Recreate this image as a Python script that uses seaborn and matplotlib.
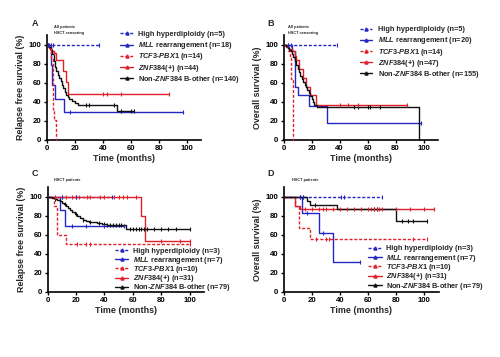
import numpy as np
import pandas as pd
import matplotlib
matplotlib.use("Agg")
import matplotlib.pyplot as plt
import seaborn as sns
from matplotlib.lines import Line2D

sns.set_style("ticks")
plt.rcParams["font.family"] = ["Liberation Sans", "DejaVu Sans"]
plt.rcParams["font.weight"] = "bold"
plt.rcParams["mathtext.fontset"] = "custom"
plt.rcParams["mathtext.it"] = "Liberation Sans:italic:bold"
plt.rcParams["mathtext.rm"] = "Liberation Sans:bold"
plt.rcParams["mathtext.bf"] = "Liberation Sans:bold"

# ---------------- data (time in months, survival in %) ----------------
# Panel A: relapse free survival, all patients
A_hh_t = [0, 37];                      A_hh_s = [100, 100];           A_hh_c = [1, 2, 3, 4.5, 37]
A_mll_t = [0, 3, 3.5, 4, 6, 12.5, 97]; A_mll_s = [100, 93, 79, 58, 43, 29, 29]; A_mll_c = [17, 97]
A_tcf_t = [0, 2.5, 3.5, 4.5, 5.5, 6.5]; A_tcf_s = [100, 93, 86, 30, 21, 0]; A_tcf_c = []
A_znf_t = [0, 2, 3, 4, 5, 7, 12, 13.5, 15, 87]
A_znf_s = [100, 97, 95, 93, 91, 84, 72, 61, 48, 48]
A_znf_c = [3, 5, 40, 43, 53, 87]
A_non_t = [0, 2, 3, 4, 5, 6, 7, 8, 9, 10, 11, 12, 13, 14, 15, 16, 18, 20, 22, 50, 62]
A_non_s = [100, 98, 95, 90, 83, 77, 72, 68, 65, 62, 58, 54, 50, 47, 45, 43, 41, 39, 36, 30, 30]
A_non_c = [1, 28, 30, 48, 53, 60, 62]

# Panel B: overall survival, all patients
B_hh_t = [0, 38];                        B_hh_s = [100, 100];           B_hh_c = [3, 5, 38]
B_mll_t = [0, 6, 8.5, 10.5, 18, 31, 98]; B_mll_s = [100, 93, 56, 47, 35, 17, 17]; B_mll_c = [3, 98]
B_tcf_t = [0, 3, 4.5, 5.5, 6.5];         B_tcf_s = [100, 93, 86, 64, 0]; B_tcf_c = []
B_znf_t = [0, 2, 4, 6, 8, 9, 11, 14, 16, 19, 23, 88]
B_znf_s = [100, 98, 96, 93, 88, 84, 75, 65, 56, 47, 37, 37]
B_znf_c = [40, 46, 53, 88]
B_non_t = [0, 2, 3, 4, 5, 6, 7, 8, 9, 10, 11, 12, 13, 14, 15, 16, 17, 18, 19, 20, 21, 22, 24, 97]
B_non_s = [100, 99, 97, 95, 93, 90, 87, 83, 79, 75, 71, 67, 64, 61, 58, 55, 52, 49, 46, 43, 40, 37, 34, 0]
B_non_c = [50, 53, 60, 62, 69]

# Panel C: relapse free survival, HSCT patients
C_hh_t = [0, 45];              C_hh_s = [100, 100];         C_hh_c = [10, 20, 45]
C_mll_t = [0, 8.5, 12, 54];    C_mll_s = [100, 86, 69, 69]; C_mll_c = [17, 27, 40, 54]
C_tcf_t = [0, 4.5, 7, 13, 100]; C_tcf_s = [100, 90, 60, 50, 50]; C_tcf_c = [21, 27, 30, 100]
C_znf_t = [0, 66, 68.5, 100];  C_znf_s = [100, 80, 53, 53]
C_znf_c = [5, 10, 13, 17, 20, 22, 28, 30, 37, 40, 47, 50, 53, 56, 62, 80, 93, 100]
C_non_t = [0, 3, 5, 7, 8.5, 10, 11.5, 13, 14.5, 16, 17.5, 19, 21, 23, 25, 27, 29, 32, 35, 38, 42, 55.5, 100]
C_non_s = [100, 99, 98, 97, 96, 94, 92, 90, 88, 86, 84, 82, 80, 78, 76, 75, 74, 73, 72, 71, 70, 66, 66]
C_non_c = [5, 12, 20, 25, 30, 36, 40, 42, 44, 46, 48, 50, 52, 58, 60, 62, 64, 66, 68, 70, 75, 80, 85, 90, 100]

# Panel D: overall survival, HSCT patients
D_hh_t = [0, 70];                D_hh_s = [100, 100];             D_hh_c = [12, 14, 41, 43, 70]
D_mll_t = [0, 13, 25.5, 35, 54]; D_mll_s = [100, 83, 62, 31, 31]; D_mll_c = [17, 28, 54]
D_tcf_t = [0, 8, 11, 18.5, 102]; D_tcf_s = [100, 90, 67, 56, 56]; D_tcf_c = [23, 30, 32, 92, 102]
D_znf_t = [0, 8, 12, 107];       D_znf_s = [100, 90, 87, 87]
D_znf_c = [15, 20, 25, 28, 30, 35, 40, 45, 50, 55, 60, 62, 64, 66, 68, 70, 80, 90, 100, 107]
D_non_t = [0, 17, 19, 38, 80, 102]; D_non_s = [100, 96, 91, 87, 75, 75]
D_non_c = [12, 14, 22, 64, 66, 84, 88, 92, 102]

A_n = [5, 18, 14, 44, 140]
B_n = [5, 20, 14, 47, 155]
C_n = [3, 7, 10, 31, 79]
D_n = [3, 7, 10, 31, 79]

panel_letters = ["A", "B", "C", "D"]
panel_notes = [["All patients", "HSCT censoring"], ["All patients", "HSCT censoring"],
               ["HSCT patients"], ["HSCT patients"]]
y_labels = ["Relapse free survival (%)", "Overall survival (%)",
            "Relapse free survival (%)", "Overall survival (%)"]
x_label = "Time (months)"
ticks = [0, 20, 40, 60, 80, 100]

# ---------------- styles ----------------
BLUE = "#2626c4"
RED = "#e0202a"
BLACK = "#111111"
styles = [
    dict(color=BLUE, ls=(0, (2.2, 1.3))),
    dict(color=BLUE, ls="-"),
    dict(color=RED, ls=(0, (2.2, 1.3))),
    dict(color=RED, ls="-"),
    dict(color=BLACK, ls="-"),
]


def labels_for(n):
    return [
        f"High hyperdiploidy (n={n[0]})",
        r"$\mathit{MLL}$ rearrangement " + f"(n={n[1]})",
        r"$\mathit{TCF3}$-$\mathit{PBX1}$ " + f"(n={n[2]})",
        r"$\mathit{ZNF384}$(+) " + f"(n={n[3]})",
        r"Non-$\mathit{ZNF384}$ B-other " + f"(n={n[4]})",
    ]


def step_value(ts, ss, t):
    idx = np.searchsorted(np.asarray(ts), t, side="right") - 1
    return np.asarray(ss)[max(idx, 0)]


W, H = 500.0, 357.0
fig = plt.figure(figsize=(5.0, 3.57), dpi=100)
positions = [
    [0.093, 0.609, 0.310, 0.292],
    [0.567, 0.609, 0.308, 0.292],
    [0.095, 0.183, 0.313, 0.292],
    [0.567, 0.183, 0.310, 0.292],
]
panels = [
    [(A_hh_t, A_hh_s, A_hh_c), (A_mll_t, A_mll_s, A_mll_c), (A_tcf_t, A_tcf_s, A_tcf_c),
     (A_znf_t, A_znf_s, A_znf_c), (A_non_t, A_non_s, A_non_c)],
    [(B_hh_t, B_hh_s, B_hh_c), (B_mll_t, B_mll_s, B_mll_c), (B_tcf_t, B_tcf_s, B_tcf_c),
     (B_znf_t, B_znf_s, B_znf_c), (B_non_t, B_non_s, B_non_c)],
    [(C_hh_t, C_hh_s, C_hh_c), (C_mll_t, C_mll_s, C_mll_c), (C_tcf_t, C_tcf_s, C_tcf_c),
     (C_znf_t, C_znf_s, C_znf_c), (C_non_t, C_non_s, C_non_c)],
    [(D_hh_t, D_hh_s, D_hh_c), (D_mll_t, D_mll_s, D_mll_c), (D_tcf_t, D_tcf_s, D_tcf_c),
     (D_znf_t, D_znf_s, D_znf_c), (D_non_t, D_non_s, D_non_c)],
]
ns = [A_n, B_n, C_n, D_n]
# legend layout in pixels: handle x0, handle x1, text x, first row centre, row pitch
legend_px = [(120, 133, 137.5, 33.3, 11.25), (360, 372, 377.5, 28.5, 11.2),
             (115, 128, 133, 250.0, 9.2), (368, 382, 386, 247.7, 9.3)]
letter_pos = [(0.070, 0.935), (0.542, 0.935), (0.070, 0.514), (0.542, 0.514)]
note_pos = [(0.108, 0.925), (0.576, 0.925), (0.108, 0.496), (0.584, 0.496)]

draw_order = [4, 1, 3, 2, 0]
for k in range(4):
    ax = fig.add_axes(positions[k])
    for i in draw_order:
        ts, ss, cs = panels[k][i]
        st = styles[i]
        df = pd.DataFrame({"t": ts, "s": ss})
        sns.lineplot(data=df, x="t", y="s", ax=ax, estimator=None, sort=False,
                     drawstyle="steps-post", color=st["color"], linestyle=st["ls"],
                     linewidth=1.0, clip_on=False, zorder=3 + i * 0.1)
        if len(cs):
            cdf = pd.DataFrame({"t": cs, "s": [step_value(ts, ss, c) for c in cs]})
            sns.scatterplot(data=cdf, x="t", y="s", ax=ax, marker="|", s=10,
                            color=st["color"], linewidth=0.8, clip_on=False, zorder=4)
    ax.set_xlim(0, 110)
    ax.set_ylim(0, 110)
    ax.set_xticks(ticks)
    ax.set_yticks(ticks)
    sns.despine(ax=ax)
    for sp in ["left", "bottom"]:
        ax.spines[sp].set_linewidth(1.2)
        ax.spines[sp].set_color("black")
    ax.tick_params(axis="both", length=2.5, width=1.0, labelsize=5.6, pad=1.5, colors="black")
    for lab in ax.get_xticklabels() + ax.get_yticklabels():
        lab.set_fontweight("bold")
    ax.set_xlabel(x_label, fontsize=6.4, fontweight="bold", labelpad=1.5)
    ax.set_ylabel(y_labels[k], fontsize=6.4, fontweight="bold", labelpad=2)

    # legend drawn row by row
    hx0, hx1, tx, y0, pitch = legend_px[k]
    labs = labels_for(ns[k])
    for i in range(5):
        yc = y0 + i * pitch
        st = styles[i]
        fig.add_artist(Line2D([hx0 / W, hx1 / W], [1 - yc / H, 1 - yc / H],
                              transform=fig.transFigure, color=st["color"],
                              linestyle=st["ls"], linewidth=1.0))
        fig.add_artist(Line2D([(hx0 + hx1) / 2 / W], [1 - yc / H], transform=fig.transFigure,
                              color=st["color"], marker="^", markersize=2.2, linestyle="none"))
        fig.text(tx / W, 1 - (yc + 2.6) / H, labs[i], fontsize=5.3, fontweight="bold",
                 ha="left", va="baseline")

    fig.text(letter_pos[k][0], letter_pos[k][1], panel_letters[k], fontsize=6.5,
             fontweight="bold", ha="center", va="center")
    for j, note in enumerate(panel_notes[k]):
        fig.text(note_pos[k][0], note_pos[k][1] - j * 0.018, note, fontsize=2.8,
                 fontweight="bold", ha="left", va="center")

fig.savefig("out.png", dpi=100)
